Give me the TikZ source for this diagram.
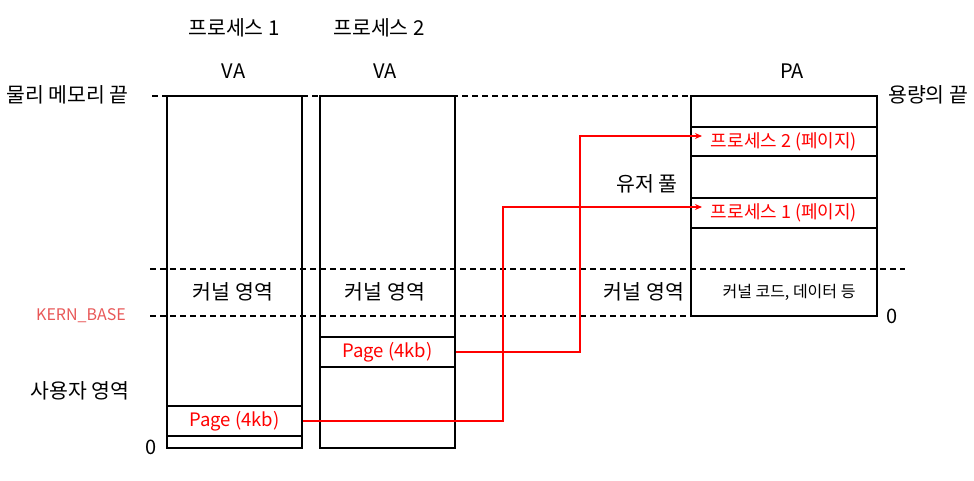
\documentclass[tikz,border=0pt]{standalone}
\usepackage{fontspec}
\setmainfont{Noto Sans CJK KR}
\usepackage{tikz}
\usetikzlibrary{arrows.meta}
\definecolor{kernbase}{RGB}{232,88,88}
\begin{document}
\begin{tikzpicture}[x=1pt,y=-1pt]
		\tikzset{every node/.style={font=\fontsize{20.5}{23}\selectfont,inner sep=0pt},
			mem/.style={draw,line width=1.6pt,minimum width=#1},
			slot/.style={draw,line width=1.6pt,minimum width=#1,minimum height=30pt,text=red,font=\fontsize{18.5}{21}\selectfont},
			level/.style={dashed,line width=1.3pt,dash pattern=on 6pt off 4pt},
			link/.style={red,line width=1.6pt,-{Stealth[length=7pt,width=6pt]}},
			latin/.style={font=\fontsize{20}{23}\selectfont},
			small/.style={font=\fontsize{16}{18}\selectfont}}
		\useasboundingbox (0,0) rectangle (974,481);
		\draw[level] (152,96) -- (691,96);
		\draw[level] (150,269) -- (905,269);
		\draw[level] (150,316) -- (691,316);
		\node (va1) at (234.5,272) [mem=135pt,minimum height=352pt] {};
		\node (va2) at (387.5,272) [mem=135pt,minimum height=352pt] {};
		\node (pa) at (784,206) [mem=186pt,minimum height=220pt] {};
		\node (p1page) at (234.5,421) [slot=135pt] {Page (4kb)};
		\node (p2page) at (387.5,352) [slot=135pt] {Page (4kb)};
		\node (pa2slot) at (784,141.5) [slot=186pt,minimum height=29pt,font=\fontsize{18}{21}\selectfont] {프로세스 2 (페이지)};
		\node (pa1slot) at (784,213) [slot=186pt,font=\fontsize{18}{21}\selectfont] {프로세스 1 (페이지)};
		\node (proc1) at (234,28) {프로세스 1};
		\node (proc2) at (379,28) {프로세스 2};
		\node (va1label) at (233.5,71) [latin] {VA};
		\node (va2label) at (385,71) [latin] {VA};
		\node (palabel) at (792,71) [latin] {PA};
		\node (memend) at (129,95) [anchor=east] {물리 메모리 끝};
		\node (capend) at (888,95) [anchor=west] {용량의 끝};
		\node (kernbase) at (126,316) [anchor=east,text=kernbase,font=\fontsize{16}{18}\selectfont] {KERN\_BASE};
		\node (userarea) at (80,391) {사용자 영역};
		\node (zerova) at (151,447) [latin] {0};
		\node (zeropa) at (892,316) [latin] {0};
		\node (userpool) at (647,184) {유저 풀};
		\node (kern1) at (233,292) {커널 영역};
		\node (kern2) at (385,292) {커널 영역};
		\node (kernpa) at (644,292) {커널 영역};
		\node (kerncode) at (789,292) [small] {커널 코드, 데이터 등};
		\coordinate (turn2) at (580,136);
		\coordinate (tip2) at (702,136);
		\coordinate (turn1) at (503,207);
		\coordinate (tip1) at (702,207);
		\draw[link] (p2page.east) -| (turn2) -- (tip2);
		\draw[link] (p1page.east) -| (turn1) -- (tip1);
\end{tikzpicture}
\end{document}
